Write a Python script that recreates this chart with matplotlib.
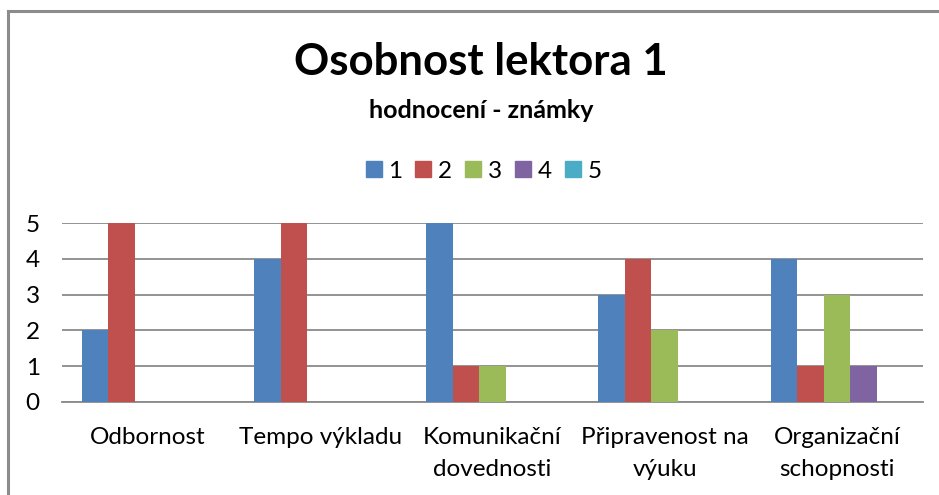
import numpy as np
import matplotlib.pyplot as plt
from matplotlib.lines import Line2D

plt.rcParams['font.family'] = ['Lato', 'DejaVu Sans']

categories = ['Odbornost', 'Tempo výkladu', 'Komunikační\ndovednosti',
              'Připravenost na\nvýuku', 'Organizační\nschopnosti']
series_names = ['1', '2', '3', '4', '5']
counts_1 = [2, 4, 5, 3, 4]
counts_2 = [5, 5, 1, 4, 1]
counts_3 = [0, 0, 1, 2, 3]
counts_4 = [0, 0, 0, 0, 1]
counts_5 = [0, 0, 0, 0, 0]
colors = ['#4F81BD', '#C0504D', '#9BBB59', '#8064A2', '#4BACC6']

W, H = 939, 495
fig = plt.figure(figsize=(W / 100, H / 100), dpi=100)

# chart border: only the left and top edges are inside the picture
bx, by = 7.5 / W, 1 - 11 / H
fig.lines.append(Line2D([bx, bx], [-0.1, by], transform=fig.transFigure,
                        color='#8c8c8c', linewidth=2.2))
fig.lines.append(Line2D([bx, 1.1], [by, by], transform=fig.transFigure,
                        color='#8c8c8c', linewidth=2.2))

ax = fig.add_axes([62 / W, 1 - 402 / H, (923 - 62) / W, (402 - 223) / H])

x = np.arange(len(categories))
bw = 1 / 6.5  # gap width 150%
all_counts = [counts_1, counts_2, counts_3, counts_4, counts_5]
for i, (vals, c) in enumerate(zip(all_counts, colors)):
    ax.bar(x + (i - 2) * bw, vals, width=bw, color=c, zorder=3)

ax.set_xlim(-0.5, len(categories) - 0.5)
ax.set_ylim(0, 5)
ax.set_yticks(range(6))
ax.set_xticks(x)
ax.set_xticklabels(categories, fontsize=17.5, linespacing=1.62)
ax.tick_params(axis='y', labelsize=17.5, length=0, pad=16)
ax.tick_params(axis='x', length=0, pad=18)
ax.grid(axis='y', color='#8a8a8a', linewidth=1.3, zorder=0)
for s in ['left', 'right', 'top']:
    ax.spines[s].set_visible(False)
ax.spines['bottom'].set_color('#8a8a8a')
ax.spines['bottom'].set_linewidth(1.3)

cx = 481 / W
fig.text(cx, 1 - 62 / H, 'Osobnost lektora 1', ha='center', va='center',
         fontsize=31.5, fontweight='bold')
fig.text(cx, 1 - 110 / H, 'hodnocení - známky', ha='center', va='center',
         fontsize=18, fontweight='bold')

handles = [Line2D([], [], marker='s', linestyle='', markersize=11,
                  color=c) for c in colors]
fig.legend(handles, series_names, loc='center', ncol=5,
           bbox_to_anchor=(484 / W, 1 - 171 / H), frameon=False,
           fontsize=17.5, handlelength=0.62, handletextpad=0.3,
           columnspacing=0.55)

fig.savefig('out.png', dpi=100)
